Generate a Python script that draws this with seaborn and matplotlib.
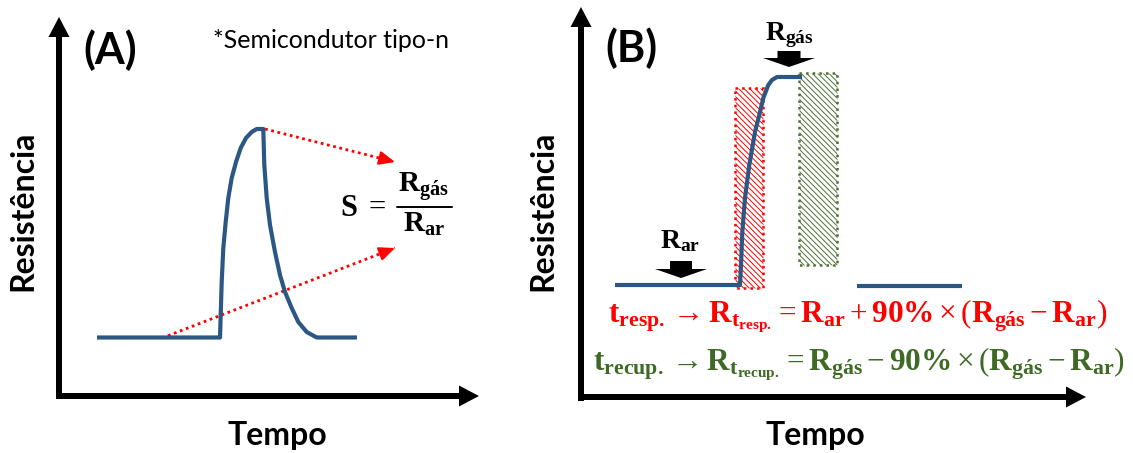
import matplotlib
matplotlib.use("Agg")
import matplotlib.pyplot as plt
import seaborn as sns
import pandas as pd
from matplotlib.patches import FancyArrow, Rectangle

# ---------------- data (schematic, in picture units) ----------------
# Panel A: sensor response of an n-type semiconductor
curve_a_time = [97, 220, 220.7, 221.7, 223.3, 225.7, 228.3, 231.7, 236, 240.7, 246,
                251.7, 256.7, 262.7, 263.3, 264.3, 266.7, 270, 275, 280, 285,
                291.7, 298.3, 306.7, 316.7, 357]
curve_a_res = [337.5, 337.5, 315, 282, 248, 222, 198, 178, 162, 148, 138,
               132, 129, 129, 129, 165, 198, 225, 252, 275, 292,
               308, 322, 332, 337.5, 337.5]

# Panel B: response / recovery
curve_b_time = [615, 740, 741, 742.3, 745, 749.3, 755, 759.3, 763.3, 768.3, 772, 777, 802]
curve_b_res = [285, 285, 265, 232, 198, 165, 132, 115, 98, 85, 80, 77, 77]
curve_b2_time = [857, 962]
curve_b2_res = [286, 286]

# hatched windows (x0, y_top, width, height)
resp_window = [735, 88, 28, 200]
recup_window = [799, 73, 38, 192]

labels_panel = ["(A)", "(B)"]
label_y = "Resistência"
label_x = "Tempo"
note_a = "*Semicondutor tipo-n"
eq_resp = (r"$\mathbf{t}_{\mathbf{resp.}}\rightarrow\mathbf{R}_{\mathbf{t}_{\mathbf{resp.}}}"
           r"=\mathbf{R}_{\mathbf{ar}}+\mathbf{90\%}\times(\mathbf{R}_{\mathbf{gás}}-\mathbf{R}_{\mathbf{ar}})$")
eq_recup = (r"$\mathbf{t}_{\mathbf{recup.}}\rightarrow\mathbf{R}_{\mathbf{t}_{\mathbf{recup.}}}"
            r"=\mathbf{R}_{\mathbf{gás}}-\mathbf{90\%}\times(\mathbf{R}_{\mathbf{gás}}-\mathbf{R}_{\mathbf{ar}})$")
r_gas = r"$\mathbf{R}_{\mathbf{gás}}$"
r_ar = r"$\mathbf{R}_{\mathbf{ar}}$"

# ---------------- style ----------------
sns.set_theme(style="white")
plt.rcParams["font.family"] = ["Lato", "DejaVu Sans"]
plt.rcParams["text.color"] = "black"
plt.rcParams["mathtext.fontset"] = "custom"
plt.rcParams["mathtext.rm"] = "Liberation Serif"
plt.rcParams["mathtext.bf"] = "Liberation Serif:bold"
plt.rcParams["mathtext.it"] = "Liberation Serif:italic"
plt.rcParams["hatch.linewidth"] = 0.7

BLUE = "#2C5784"
RED = "#FF0000"
GREEN = "#3F6A26"

fig = plt.figure(figsize=(11.33, 4.53), dpi=100)
ax = fig.add_axes([0, 0, 1, 1])

dfa = pd.DataFrame({"t": curve_a_time, "r": curve_a_res})
dfb = pd.DataFrame({"t": curve_b_time, "r": curve_b_res})
dfb2 = pd.DataFrame({"t": curve_b2_time, "r": curve_b2_res})

# hatched windows (behind curve)
ax.add_patch(Rectangle((resp_window[0], resp_window[1]), resp_window[2], resp_window[3],
                       facecolor="none", edgecolor=RED, hatch="\\\\\\\\\\\\", lw=1.8,
                       linestyle=":", zorder=1))
ax.add_patch(Rectangle((recup_window[0], recup_window[1]), recup_window[2], recup_window[3],
                       facecolor="none", edgecolor="#4E7035", hatch="\\\\\\\\\\\\", lw=1.8,
                       linestyle=":", zorder=1))

for d in (dfa, dfb, dfb2):
    sns.lineplot(data=d, x="t", y="r", sort=False, estimator=None, ax=ax,
                 color=BLUE, lw=3.0, zorder=3, solid_joinstyle="round",
                 solid_capstyle="butt")
ax.set_xlim(0, 1133)
ax.set_ylim(453, 0)
ax.axis("off")

# axes arrows
def arrow(x0, y0, x1, y1, w=6, hw=21, hl=20):
    ax.add_patch(FancyArrow(x0, y0, x1 - x0, y1 - y0, width=w, head_width=hw,
                            head_length=hl, length_includes_head=True,
                            color="black", lw=0, zorder=4))

arrow(59, 399, 59, 17)
arrow(56, 396, 479, 396)
arrow(581, 401, 581, 7)
arrow(578, 397, 1086, 397)

# small down arrows
arrow(681, 261, 681, 278, w=22, hw=52, hl=9)
arrow(789, 51, 789, 67, w=23, hw=52, hl=9)

# red dotted arrows in A
for (x0, y0, x1, y1) in [(265, 129, 395, 162), (162, 338, 395, 248)]:
    ax.plot([x0, x1], [y0, y1], color=RED, lw=2.0, linestyle=(0, (1, 1.3)), zorder=2)
    ax.annotate("", xy=(x1, y1), xytext=(x1 - (x1 - x0) * 0.06, y1 - (y1 - y0) * 0.06),
                arrowprops=dict(arrowstyle="-|>,head_width=0.35,head_length=0.8",
                                color=RED, lw=1.5, shrinkA=0, shrinkB=0))

# texts
ax.text(110, 50, labels_panel[0], fontsize=31, fontweight="bold", ha="center", va="center")
ax.text(631, 48, labels_panel[1], fontsize=31, fontweight="bold", ha="center", va="center")
ax.text(331, 40, note_a, fontsize=18, ha="center", va="center")
ax.text(23, 211, label_y, fontsize=23, fontweight="bold", rotation=90, ha="center", va="center")
ax.text(543, 211, label_y, fontsize=23, fontweight="bold", rotation=90, ha="center", va="center")
ax.text(277, 436, label_x, fontsize=23, fontweight="bold", ha="center", va="center")
ax.text(815, 436, label_x, fontsize=23, fontweight="bold", ha="center", va="center")

# sensitivity formula
ax.text(340, 207, r"$\mathbf{S}\ =$", fontsize=22, ha="left", va="center")
ax.text(424, 192, r_gas, fontsize=21, ha="center", va="baseline")
ax.plot([397, 452], [207, 207], color="black", lw=1.4)
ax.text(424, 232, r_ar, fontsize=21, ha="center", va="baseline")

ax.text(789, 40, r_gas, fontsize=20, ha="center", va="baseline")
ax.text(680, 248, r_ar, fontsize=20, ha="center", va="baseline")

ax.text(608, 322, eq_resp, fontsize=22.5, color=RED, ha="left", va="baseline")
ax.text(593, 370, eq_recup, fontsize=22.5, color=GREEN, ha="left", va="baseline")

fig.savefig("out.png", dpi=100)
